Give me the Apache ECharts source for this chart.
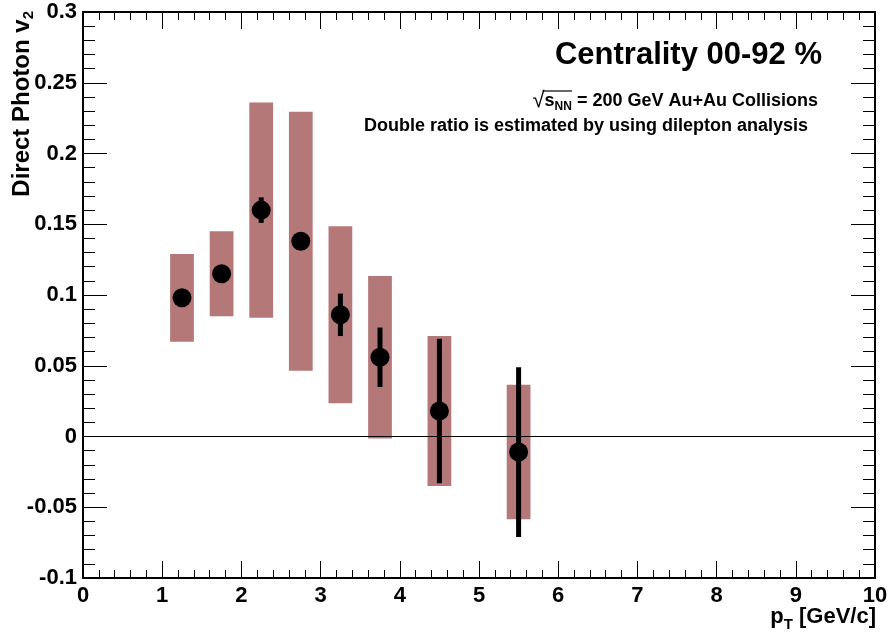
<!DOCTYPE html>
<html>
<head>
<meta charset="utf-8">
<script src="https://cdn.jsdelivr.net/npm/echarts@6/dist/echarts.min.js"></script>
<style>
  html, body { margin: 0; padding: 0; background: #fff; }
  #chart { width: 892px; height: 639px; }
</style>
</head>
<body>
<div id="chart"></div>
<script>
// pT bin centres and measured direct photon v2
var pt = [1.25, 1.75, 2.25, 2.75, 3.25, 3.75, 4.5, 5.5];
var v2 = [0.098, 0.115, 0.160, 0.138, 0.086, 0.056, 0.018, -0.011];
// statistical errors (black bars) and systematic errors (boxes)
var statErr = [0.006, 0.006, 0.009, 0.006, 0.015, 0.021, 0.051, 0.060];
var sysErr = [0.031, 0.030, 0.076, 0.0915, 0.0625, 0.0575, 0.053, 0.0475];

var BOX_HALF = 0.15;
var BOX_COLOR = '#b47878';
var FONT = 'Liberation Sans, Arial, sans-serif';

var chart = echarts.init(document.getElementById('chart'));

function renderBox(params, api) {
    var x = api.value(0), y = api.value(1), e = api.value(2);
    var p1 = api.coord([x - BOX_HALF, y + e]);
    var p2 = api.coord([x + BOX_HALF, y - e]);
    return {
        type: 'rect',
        shape: {x: p1[0], y: p1[1], width: p2[0] - p1[0], height: p2[1] - p1[1]},
        style: {fill: BOX_COLOR}
    };
}

function renderErr(params, api) {
    var x = api.value(0), y = api.value(1), e = api.value(2);
    var lo = api.coord([x, y - e]);
    var hi = api.coord([x, y + e]);
    return {
        type: 'line',
        shape: {x1: lo[0], y1: lo[1], x2: hi[0], y2: hi[1]},
        style: {stroke: '#000', lineWidth: 5}
    };
}

// width of a piece of text, used to put the bar over s_NN
var ctx = document.createElement('canvas').getContext('2d');
function textWidth(str, font) {
    ctx.font = font;
    return ctx.measureText(str).width;
}

var tickLabel = {fontSize: 22, fontWeight: 'bold', color: '#000', fontFamily: FONT};

function xAxisCfg(pos, showLabel) {
    return {
        type: 'value', position: pos, min: 0, max: 10, interval: 1,
        axisLine: {show: true, onZero: false, lineStyle: {color: '#000', width: 2}},
        axisTick: {show: true, inside: true, length: 17, lineStyle: {color: '#000', width: 1}},
        minorTick: {show: true, splitNumber: 5, length: 8, lineStyle: {color: '#000', width: 1}},
        axisLabel: showLabel ? Object.assign({margin: 7}, tickLabel) : {show: false},
        splitLine: {show: false}
    };
}

function yAxisCfg(pos, showLabel) {
    return {
        type: 'value', position: pos, min: -0.1, max: 0.3, interval: 0.05,
        axisLine: {show: true, onZero: false, lineStyle: {color: '#000', width: 2}},
        axisTick: {show: true, inside: true, length: 24, lineStyle: {color: '#000', width: 1}},
        minorTick: {show: true, splitNumber: 5, length: 12, lineStyle: {color: '#000', width: 1}},
        axisLabel: showLabel ? Object.assign({margin: 6, padding: [4, 0, 0, 0]}, tickLabel) : {show: false},
        splitLine: {show: false}
    };
}

var sqrtRight = 818;
var restText = ' = 200 GeV Au+Au Collisions';
var barEnd = sqrtRight - textWidth(restText, 'bold 18px ' + FONT);
var barStart = barEnd - textWidth('NN', 'bold 12px ' + FONT) - textWidth('s', 'bold 18px ' + FONT) - 2;

var option = {
    backgroundColor: '#fff',
    animation: false,
    grid: {left: 83, right: 17, top: 12, bottom: 61, outerBoundsMode: 'none'},
    xAxis: [xAxisCfg('bottom', true), xAxisCfg('top', false)],
    yAxis: [yAxisCfg('left', true), yAxisCfg('right', false)],
    graphic: [
        {
            type: 'text', x: 822, y: 55,
            style: {text: 'Centrality 00-92 %', font: 'bold 31px ' + FONT, fill: '#000',
                    textAlign: 'right', textVerticalAlign: 'middle'}
        },
        {
            type: 'text', x: sqrtRight, y: 101,
            style: {
                text: '{sq|√}{s|s}{sub|NN}{n|' + restText + '}',
                textAlign: 'right', textVerticalAlign: 'middle',
                rich: {
                    sq: {font: '22px ' + FONT, fill: '#000', lineHeight: 24},
                    s: {font: 'bold 18px ' + FONT, fill: '#000', lineHeight: 24},
                    sub: {font: 'bold 12px ' + FONT, fill: '#000', verticalAlign: 'bottom'},
                    n: {font: 'bold 18px ' + FONT, fill: '#000', lineHeight: 24}
                }
            }
        },
        {
            type: 'line',
            shape: {x1: barStart, y1: 91, x2: barEnd, y2: 91},
            style: {stroke: '#000', lineWidth: 1.2}
        },
        {
            type: 'text', x: 808, y: 126,
            style: {text: 'Double ratio is estimated by using dilepton analysis',
                    font: 'bold 18px ' + FONT, fill: '#000',
                    textAlign: 'right', textVerticalAlign: 'middle'}
        },
        {
            type: 'text', x: 22, y: 11, rotation: Math.PI / 2,
            style: {
                text: '{m|Direct Photon v}{sub|2}',
                textAlign: 'right', textVerticalAlign: 'middle',
                rich: {
                    m: {font: 'bold 24px ' + FONT, fill: '#000', lineHeight: 28},
                    sub: {font: 'bold 15px ' + FONT, fill: '#000', verticalAlign: 'bottom'}
                }
            }
        },
        {
            type: 'text', x: 876, y: 617,
            style: {
                text: '{m|p}{sub|T}{m| [GeV/c]}',
                textAlign: 'right', textVerticalAlign: 'middle',
                rich: {
                    m: {font: 'bold 22px ' + FONT, fill: '#000', lineHeight: 30},
                    sub: {font: 'bold 15px ' + FONT, fill: '#000', verticalAlign: 'bottom'}
                }
            }
        }
    ],
    series: [
        {
            name: 'sys',
            type: 'custom',
            renderItem: renderBox,
            data: pt.map(function (x, i) { return [x, v2[i], sysErr[i]]; }),
            z: 2,
            markLine: {
                silent: true,
                symbol: ['none', 'none'],
                label: {show: false},
                lineStyle: {color: '#000', width: 1, type: 'solid'},
                data: [{yAxis: 0}]
            }
        },
        {
            name: 'stat',
            type: 'custom',
            renderItem: renderErr,
            data: pt.map(function (x, i) { return [x, v2[i], statErr[i]]; }),
            z: 3
        },
        {
            name: 'v2',
            type: 'scatter',
            symbol: 'circle',
            symbolSize: 19,
            itemStyle: {color: '#000', opacity: 1},
            data: pt.map(function (x, i) { return [x, v2[i]]; }),
            z: 4
        }
    ]
};

chart.setOption(option);
</script>
</body>
</html>
